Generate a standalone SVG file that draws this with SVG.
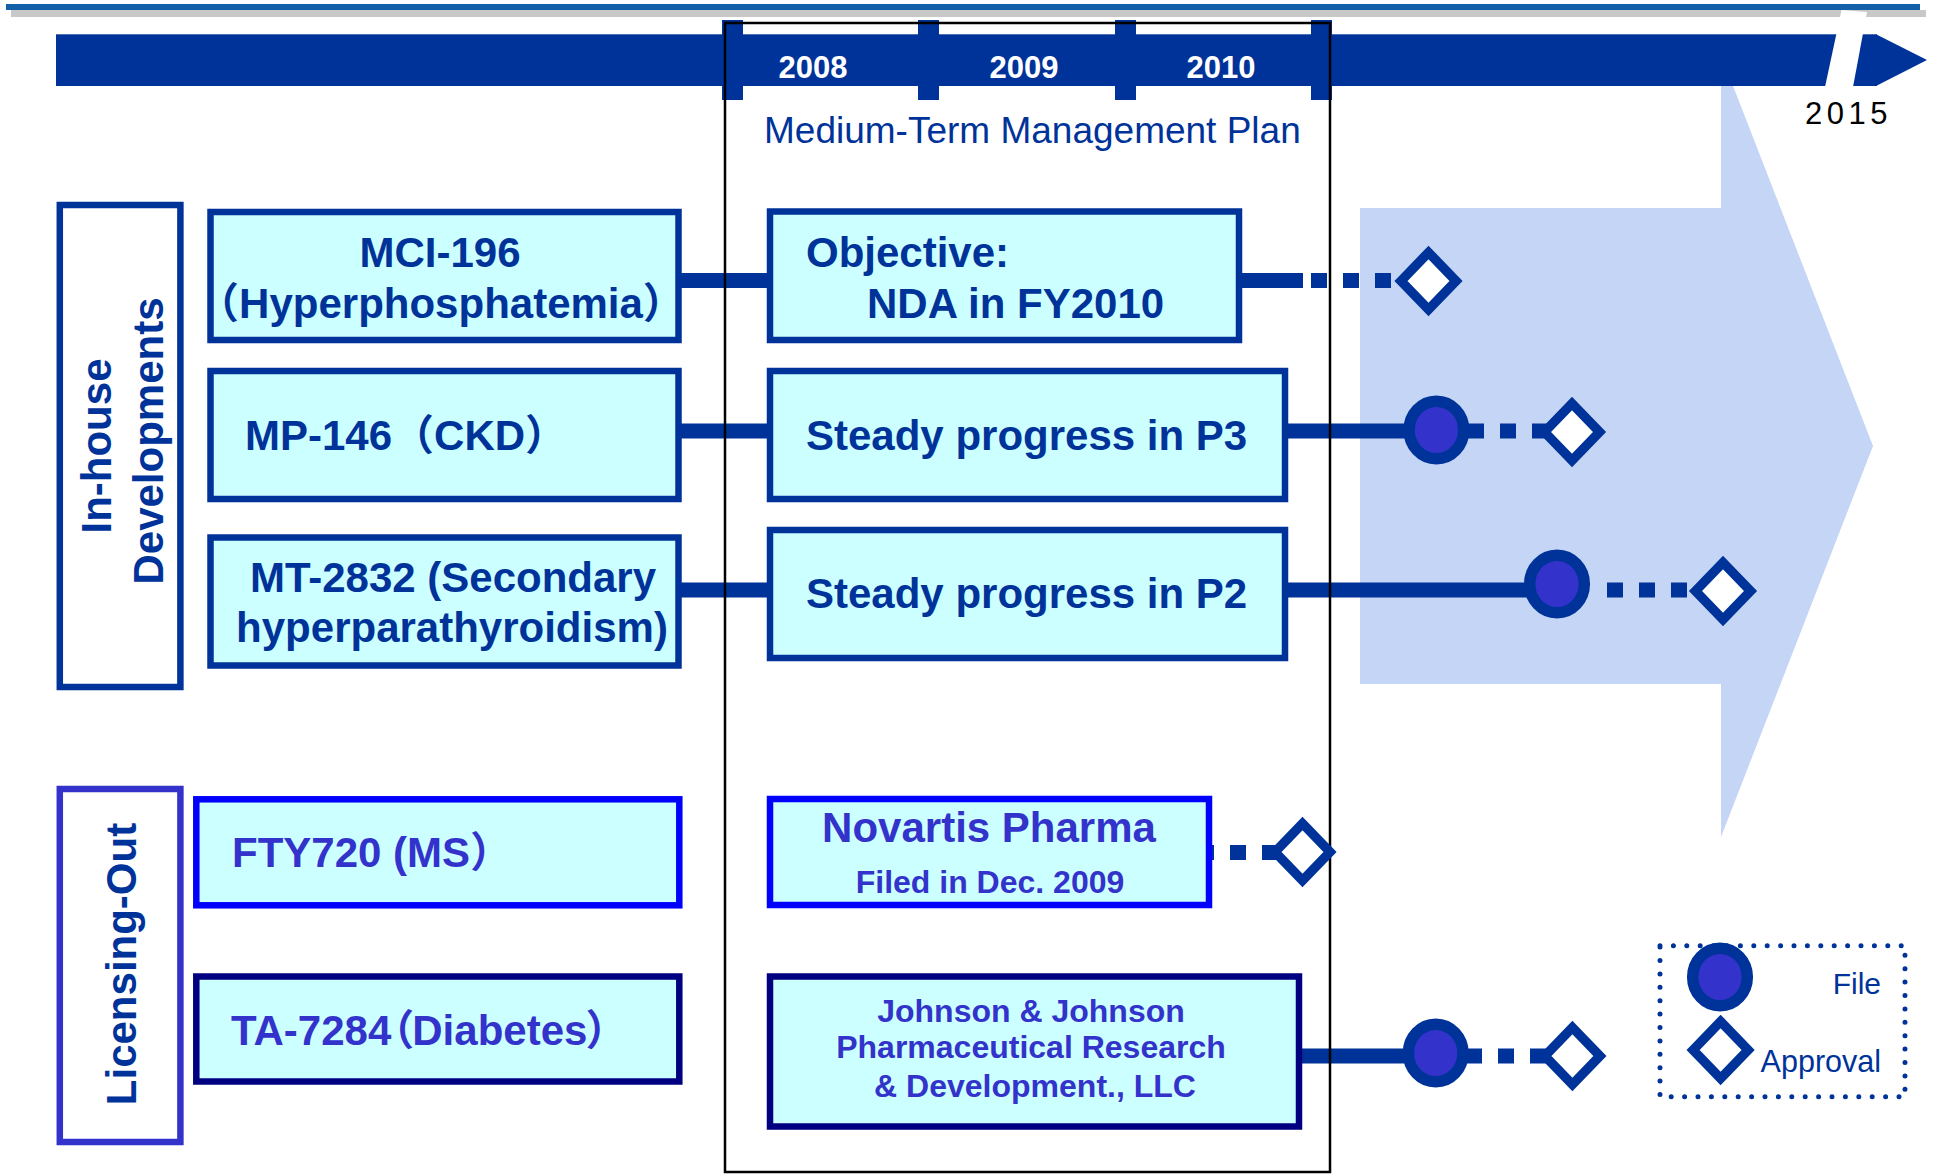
<svg xmlns="http://www.w3.org/2000/svg" xmlns:xlink="http://www.w3.org/1999/xlink" width="1933" height="1176" viewBox="0 0 1933 1176">
<style>
text{font-family:"Liberation Sans","Noto Sans CJK JP",Arial,sans-serif}
.b{font-weight:bold}
.t42{font-size:42px}
.dk{fill:#003399}
.pu{fill:#3333CC}
.palt{font-feature-settings:"palt"}
.box{fill:#CCFFFF;stroke:#003399;stroke-width:6.5}
.boxb{fill:#CCFFFF;stroke:#0000FF;stroke-width:6.5}
.boxn{fill:#CCFFFF;stroke:#000080;stroke-width:6.5}
.grp{fill:#FFFFFF;stroke-width:6.5}
.ln{stroke:#003399;stroke-width:15;fill:none}
.dl{stroke:#003399;stroke-width:15;fill:none;stroke-dasharray:16 16}
.dia{fill:#FFFFFF;stroke:#003399;stroke-width:9.5;stroke-linejoin:miter}
.file{fill:#3333CC;stroke:#003399;stroke-width:11.5}
.tick{fill:#003399}
</style>
<defs>
<path id="dia" d="M-27.5,0 L0,-28.5 L27.5,0 L0,28.5 Z"/>
</defs>

<!-- header lines -->
<rect x="11" y="10" width="1915" height="7" fill="#C8C8C8"/>
<rect x="6" y="4" width="1914" height="6" fill="#135FA8"/>

<!-- background future arrow -->
<polygon points="1360,208 1721,208 1721,55 1873,446 1721,837 1721,684 1360,684" fill="#C4D5F5"/>

<!-- timeline -->
<g id="timeline">
<rect x="56" y="34.3" width="1821" height="51.7" fill="#003399"/>
<polygon points="1876,34.3 1927,60 1876,86" fill="#003399"/>
<polygon points="1841.5,10 1867,12 1853,87 1825,87" fill="#FFFFFF"/>
<rect class="tick" x="722" y="20" width="21" height="80"/>
<rect class="tick" x="918" y="20" width="21" height="80"/>
<rect class="tick" x="1115" y="20" width="21" height="80"/>
<rect class="tick" x="1311" y="20" width="21" height="80"/>
<text class="b" x="813" y="78" font-size="31" fill="#FFFFFF" text-anchor="middle">2008</text>
<text class="b" x="1024" y="78" font-size="31" fill="#FFFFFF" text-anchor="middle">2009</text>
<text class="b" x="1221" y="78" font-size="31" fill="#FFFFFF" text-anchor="middle">2010</text>
<text x="1805" y="124" font-size="31" letter-spacing="4.5" fill="#000000">2015</text>
</g>

<!-- connectors -->
<g id="connectors">
<line class="ln" x1="681" y1="280.5" x2="767" y2="280.5"/>
<line class="ln" x1="1242" y1="280.5" x2="1303" y2="280.5"/>
<line class="dl" x1="1311" y1="280.5" x2="1400" y2="280.5"/>
<line class="ln" x1="681" y1="431" x2="767" y2="431"/>
<line class="ln" x1="1288" y1="431" x2="1436" y2="431"/>
<line class="dl" x1="1468" y1="431" x2="1548" y2="431"/>
<line class="ln" x1="681" y1="590" x2="767" y2="590"/>
<line class="ln" x1="1288" y1="590" x2="1557" y2="590"/>
<line class="dl" x1="1607" y1="590" x2="1696" y2="590"/>
<line class="dl" x1="1198" y1="852.5" x2="1278" y2="852.5"/>
<line class="ln" x1="1302" y1="1056" x2="1436" y2="1056"/>
<line class="dl" x1="1466" y1="1056" x2="1548" y2="1056"/>
</g>

<!-- medium-term plan frame -->
<rect id="mtp-frame" x="725" y="23" width="605" height="1149" fill="none" stroke="#000000" stroke-width="2.5"/>
<text class="dk" x="764" y="143" font-size="37">Medium-Term Management Plan</text>

<!-- group labels -->
<g id="inhouse">
<rect class="grp" x="59.8" y="205" width="120.6" height="482" stroke="#003399"/>
<text class="b t42 dk" text-anchor="middle" transform="translate(111.4,446) rotate(-90)">In-house</text>
<text class="b t42 dk" text-anchor="middle" transform="translate(162.8,441) rotate(-90)">Developments</text>
</g>
<g id="licensing">
<rect class="grp" x="59.8" y="789" width="120.6" height="353" stroke="#3333CC"/>
<text class="b t42 dk" text-anchor="middle" transform="translate(136,964) rotate(-90)">Licensing-Out</text>
</g>

<!-- compound boxes -->
<g id="mci196">
<rect class="box" x="210.5" y="212" width="468" height="128"/>
<text class="b t42 dk" x="440" y="267" text-anchor="middle">MCI-196</text>
<text class="b t42 dk" x="441" y="318" text-anchor="middle">（Hyperphosphatemia）</text>
</g>
<g id="mp146">
<rect class="box" x="210.5" y="371" width="468" height="128"/>
<text class="b t42 dk" x="245" y="450">MP-146（CKD）</text>
</g>
<g id="mt2832">
<rect class="box" x="210.5" y="537.5" width="468" height="128"/>
<text class="b t42 dk" x="453" y="592" text-anchor="middle">MT-2832 (Secondary</text>
<text class="b t42 dk" x="452" y="642" text-anchor="middle">hyperparathyroidism)</text>
</g>
<g id="fty720">
<rect class="boxb" x="196.3" y="799.3" width="483" height="106"/>
<text class="b t42 pu" x="232" y="867">FTY720 (MS）</text>
</g>
<g id="ta7284">
<rect class="boxn" x="196.3" y="976.5" width="483" height="105"/>
<text class="b t42 pu palt" x="231" y="1045">TA-7284（Diabetes）</text>
</g>

<!-- status boxes -->
<g id="objective">
<rect class="box" x="770" y="211.5" width="469" height="128.5"/>
<text class="b t42 dk" x="806" y="267">Objective:</text>
<text class="b t42 dk" x="867" y="318">NDA in FY2010</text>
</g>
<g id="p3">
<rect class="box" x="770" y="371" width="515" height="128"/>
<text class="b t42 dk" x="806" y="450">Steady progress in P3</text>
</g>
<g id="p2">
<rect class="box" x="770" y="530" width="515" height="128"/>
<text class="b t42 dk" x="806" y="608">Steady progress in P2</text>
</g>
<g id="novartis">
<rect class="boxb" x="770" y="799" width="439" height="106"/>
<text class="b t42 pu" x="989" y="842" text-anchor="middle">Novartis Pharma</text>
<text class="b pu" x="990" y="893" font-size="32" text-anchor="middle">Filed in Dec. 2009</text>
</g>
<g id="jnj">
<rect class="boxn" x="770" y="976.5" width="529" height="150"/>
<text class="b pu" x="1031" y="1022" font-size="32" text-anchor="middle">Johnson &amp; Johnson</text>
<text class="b pu" x="1031" y="1058" font-size="32" text-anchor="middle">Pharmaceutical Research</text>
<text class="b pu" x="1035" y="1097" font-size="32" text-anchor="middle">&amp; Development., LLC</text>
</g>

<!-- milestones -->
<g id="milestones">
<use xlink:href="#dia" class="dia" x="1428.5" y="281"/>
<ellipse class="file" cx="1436.4" cy="430" rx="27.3" ry="28.8"/>
<use xlink:href="#dia" class="dia" x="1572" y="432"/>
<ellipse class="file" cx="1557" cy="584" rx="27.3" ry="28.8"/>
<use xlink:href="#dia" class="dia" x="1723" y="591"/>
<use xlink:href="#dia" class="dia" x="1302.5" y="852"/>
<ellipse class="file" cx="1435.7" cy="1053" rx="27.3" ry="28.8"/>
<use xlink:href="#dia" class="dia" x="1572.4" y="1056"/>
</g>

<!-- legend -->
<g id="legend">
<rect x="1660" y="945.7" width="245" height="151" fill="none" stroke="#003399" stroke-width="5" stroke-linecap="round" stroke-dasharray="0 13.4"/>
<ellipse class="file" cx="1720" cy="977" rx="27.3" ry="28.8"/>
<use xlink:href="#dia" class="dia" x="1720.6" y="1050"/>
<text class="dk" x="1881" y="994" font-size="30" text-anchor="end">File</text>
<text class="dk" x="1881" y="1072" font-size="30.5" text-anchor="end">Approval</text>
</g>
</svg>
